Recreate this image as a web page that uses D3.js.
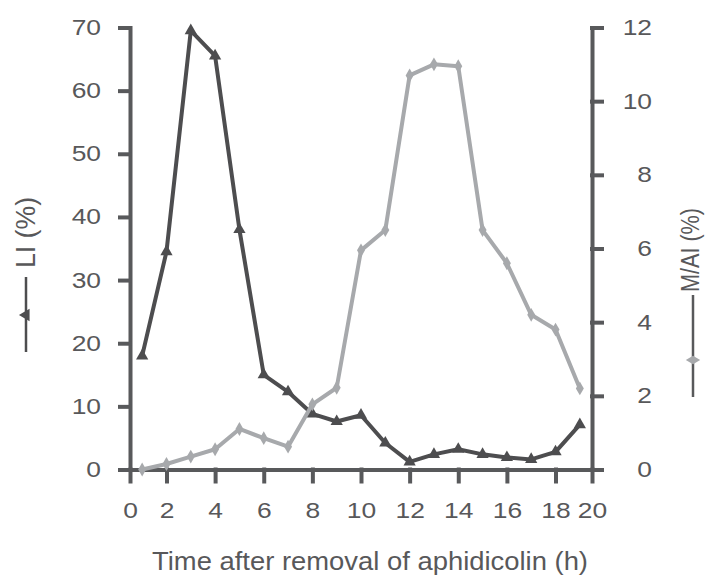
<!DOCTYPE html>
<html>
<head>
<meta charset="utf-8">
<script src="https://cdn.jsdelivr.net/npm/d3@7"></script>
<style>
  body { margin: 0; background: #fff; }
  svg { display: block; }
  text { font-family: "Liberation Sans", Arial, Helvetica, sans-serif; }
</style>
</head>
<body>
<svg id="chart" width="706" height="576"></svg>
<script>
// Sampling times (h) after aphidicolin release
const hours = [1, 2, 3, 4, 5, 6, 7, 8, 9, 10, 11, 12, 13, 14, 15, 16, 17, 18, 19];
// Labelling index, LI (%)
const labelingIndex = [18, 34.5, 69.5, 65.5, 38, 15, 12.3, 8.8, 7.6, 8.6, 4.2, 1.2, 2.4, 3.2, 2.4, 1.9, 1.6, 2.8, 7.1];
// Mitotic/anaphase index, M/AI (%)
const mitoticIndex = [0, 0.15, 0.35, 0.55, 1.1, 0.85, 0.62, 1.77, 2.22, 5.95, 6.5, 10.7, 11.0, 10.95, 6.5, 5.6, 4.2, 3.8, 2.2];

// Axis ticks
const xTickValues = [0.5, 2, 4, 6, 8, 10, 12, 14, 16, 18, 19.5];
const xTickLabels = ["0", "2", "4", "6", "8", "10", "12", "14", "16", "18", "20"];
const leftTicks = [0, 10, 20, 30, 40, 50, 60, 70];
const rightTicks = [0, 2, 4, 6, 8, 10, 12];

const xTitle = "Time after removal of aphidicolin (h)";
const liLabel = "LI (%)";
const maiLabel = "M/AI (%)";

const axisColor = "#58595b";
const textColor = "#58585a";
const liColor = "#4d4d4f";
const maiColor = "#a7a9ac";

const plotLeft = 130, plotRight = 592, plotTop = 27.5, plotBottom = 469.5;
const wide = 1.2; // horizontal widening of the numeral face

const svg = d3.select("#chart");
svg.append("rect").attr("width", 706).attr("height", 576).attr("fill", "#fff");

const x = d3.scaleLinear().domain([0.5, 19.5]).range([plotLeft, plotRight]);
const yL = d3.scaleLinear().domain([0, 70]).range([plotBottom, plotTop]);
const yR = d3.scaleLinear().domain([0, 12]).range([plotBottom, plotTop]);

function styleAxis(g) {
  g.selectAll("path.domain").attr("stroke", axisColor).attr("stroke-width", 4).attr("stroke-linecap", "square");
  g.selectAll(".tick line").attr("stroke", axisColor).attr("stroke-width", 4).attr("stroke-linecap", "square");
  g.selectAll(".tick text").attr("fill", textColor).attr("font-size", 22);
}

// Stretch tick labels horizontally while keeping their anchor point
function widenTicks(g) {
  g.selectAll(".tick text").each(function () {
    const t = d3.select(this);
    const x0 = +t.attr("x") || 0;
    t.attr("x", x0 / wide).attr("transform", `scale(${wide},1)`);
  });
}

// Bottom axis
const gx = svg.append("g")
  .attr("transform", `translate(0,${plotBottom})`)
  .call(d3.axisBottom(x).tickValues(xTickValues)
    .tickFormat((d, i) => xTickLabels[i])
    .tickSize(12).tickSizeOuter(0).tickPadding(21));
styleAxis(gx);
widenTicks(gx);

// Left axis (LI)
const gl = svg.append("g")
  .attr("transform", `translate(${plotLeft},0)`)
  .call(d3.axisLeft(yL).tickValues(leftTicks).tickSize(10).tickSizeOuter(0).tickPadding(19));
styleAxis(gl);
widenTicks(gl);

// Right axis (M/AI)
const gr = svg.append("g")
  .attr("transform", `translate(${plotRight},0)`)
  .call(d3.axisRight(yR).tickValues(rightTicks).tickSize(10).tickSizeOuter(0));
styleAxis(gr);
gr.selectAll(".tick text").attr("text-anchor", "end").attr("x", 60);
widenTicks(gr);

// Series lines
const liLine = d3.line().x((d, i) => x(hours[i])).y(d => yL(d));
const maiLine = d3.line().x((d, i) => x(hours[i])).y(d => yR(d));

svg.append("path").datum(labelingIndex)
  .attr("d", liLine).attr("fill", "none")
  .attr("stroke", liColor).attr("stroke-width", 4).attr("stroke-linejoin", "round");
svg.append("g").selectAll("path").data(labelingIndex).join("path")
  .attr("d", d3.symbol(d3.symbolTriangle, 65))
  .attr("transform", (d, i) => `translate(${x(hours[i])},${yL(d)})`)
  .attr("fill", liColor);

svg.append("path").datum(mitoticIndex)
  .attr("d", maiLine).attr("fill", "none")
  .attr("stroke", maiColor).attr("stroke-width", 4).attr("stroke-linejoin", "round");
svg.append("g").selectAll("path").data(mitoticIndex).join("path")
  .attr("d", d3.symbol(d3.symbolDiamond, 55))
  .attr("transform", (d, i) => `translate(${x(hours[i])},${yR(d)})`)
  .attr("fill", maiColor);

// X title
svg.append("text")
  .attr("x", 370).attr("y", 570)
  .attr("text-anchor", "middle")
  .attr("font-size", 25).attr("fill", textColor)
  .attr("textLength", 436).attr("lengthAdjust", "spacingAndGlyphs")
  .text(xTitle);

// Left legend key: line, triangle and rotated label
svg.append("line").attr("x1", 26).attr("x2", 26).attr("y1", 277).attr("y2", 352)
  .attr("stroke", liColor).attr("stroke-width", 2.5);
svg.append("path").attr("d", d3.symbol(d3.symbolTriangle, 65))
  .attr("transform", "translate(26,315) rotate(-90)").attr("fill", liColor);
svg.append("text")
  .attr("transform", "translate(35,268) rotate(-90) scale(1,1.08)")
  .attr("font-size", 25).attr("fill", textColor)
  .attr("textLength", 71).attr("lengthAdjust", "spacingAndGlyphs")
  .text(liLabel);

// Right legend key: line, diamond and rotated label
svg.append("line").attr("x1", 693).attr("x2", 693).attr("y1", 295).attr("y2", 397)
  .attr("stroke", axisColor).attr("stroke-width", 2.5);
svg.append("path").attr("d", d3.symbol(d3.symbolDiamond, 60))
  .attr("transform", "translate(693,360) rotate(-90)").attr("fill", maiColor);
svg.append("text")
  .attr("transform", "translate(699,292) rotate(-90) scale(1,1.15)")
  .attr("font-size", 22).attr("fill", textColor)
  .attr("textLength", 84).attr("lengthAdjust", "spacingAndGlyphs")
  .text(maiLabel);
</script>
</body>
</html>
